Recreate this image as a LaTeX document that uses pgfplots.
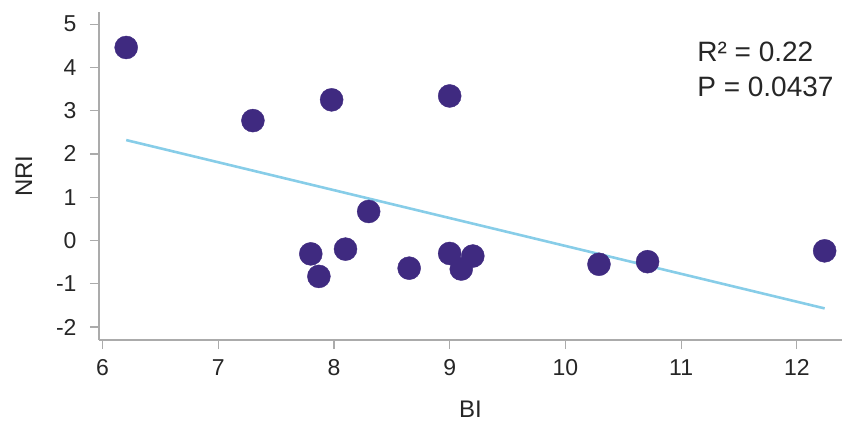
\documentclass[border=0pt]{standalone}
\usepackage{fontspec}
\setmainfont{Liberation Sans}
\usepackage{pgfplots}
\pgfplotsset{compat=1.18}
\definecolor{dotc}{HTML}{3F2A80}
\definecolor{linec}{HTML}{87CDE8}
\definecolor{axc}{HTML}{ABABAB}
\begin{document}
\begin{tikzpicture}
\begin{axis}[
  scale only axis, width=743bp, height=328bp,
  xmin=5.97, xmax=12.39, ymin=-2.3, ymax=5.28,
  axis x line*=bottom, axis y line*=left,
  axis line style={axc, line width=1.2bp, -},
  xtick={6,...,12}, ytick={-2,...,5},
  tick style={axc, line width=1.2bp},
  tick align=outside, major tick length=9bp,
  ticklabel style={font=\fontsize{23bp}{26bp}\selectfont, text=black!85},
  xticklabel style={yshift=-7bp},
  yticklabel style={xshift=-10bp},
  /pgf/number format/assume math mode=true,
  xlabel={BI}, ylabel={NRI},
  label style={font=\fontsize{24bp}{28bp}\selectfont, text=black!85},
  xlabel style={at={(axis description cs:0.5,-0.2104)}, anchor=center},
  ylabel style={at={(axis description cs:-0.101,0.5)}, anchor=center},
  clip=false,
]
\addplot[only marks, mark=*, mark size=11.5bp, mark options={fill=dotc, draw=dotc}] table {
x y
6.205 4.46
7.30 2.77
7.98 3.25
9.00 3.34
8.30 0.67
7.80 -0.31
7.87 -0.83
8.10 -0.20
8.65 -0.64
9.00 -0.30
9.20 -0.36
9.10 -0.66
10.29 -0.55
10.71 -0.49
12.24 -0.24
};
\addplot[linec, line width=2.6bp, no marks] coordinates {(6.205,2.32) (12.24,-1.57)};
\node[anchor=base west, inner sep=0pt, font=\fontsize{28bp}{34bp}\selectfont, text=black!85] at (rel axis cs:0.805,0.8485) {R² = 0.22};
\node[anchor=base west, inner sep=0pt, font=\fontsize{28bp}{34bp}\selectfont, text=black!85] at (rel axis cs:0.805,0.7418) {P = 0.0437};
\end{axis}
\pgfresetboundingbox
\useasboundingbox (-99bp,-83bp) rectangle (746bp,340bp);
\end{tikzpicture}
\end{document}
